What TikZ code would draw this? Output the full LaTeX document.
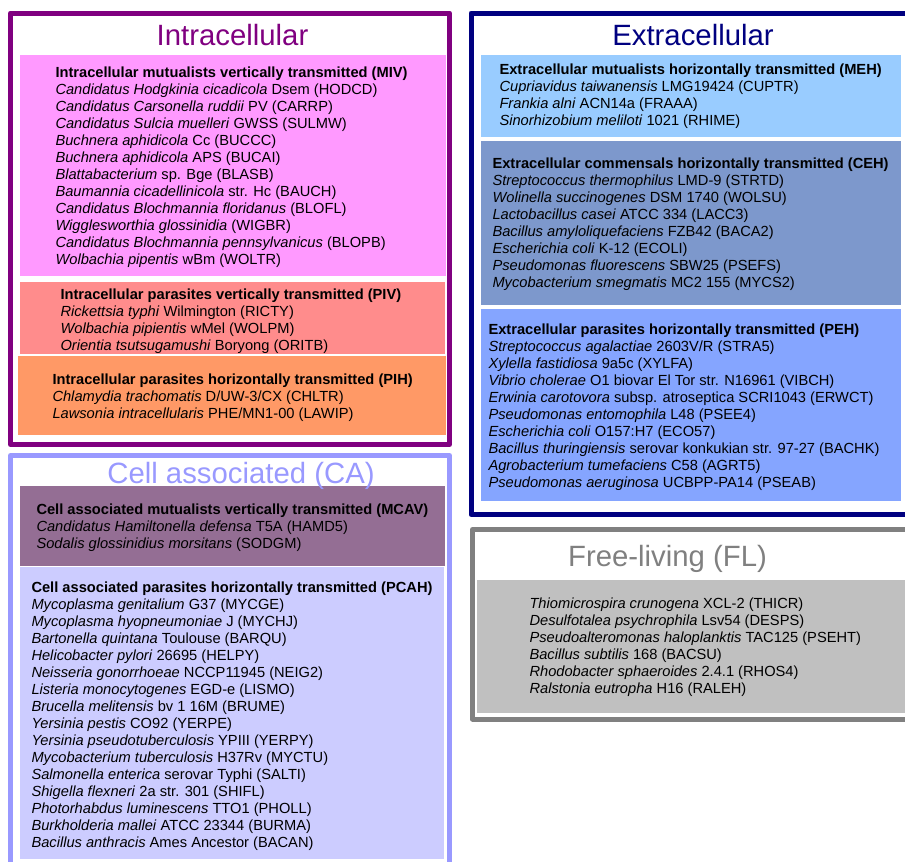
\documentclass[tikz,border=0pt]{standalone}
\usepackage{fontspec}
\setmainfont{Liberation Sans}
\definecolor{intrapurple}{RGB}{128,0,128}
\definecolor{mivpink}{RGB}{255,153,255}
\definecolor{pivsalmon}{RGB}{255,140,140}
\definecolor{piporange}{RGB}{255,153,102}
\definecolor{caviolet}{RGB}{153,153,255}
\definecolor{mcavmauve}{RGB}{148,110,148}
\definecolor{pcahlilac}{RGB}{204,204,255}
\definecolor{extranavy}{RGB}{0,0,128}
\definecolor{mehsky}{RGB}{153,204,255}
\definecolor{cehsteel}{RGB}{125,152,204}
\definecolor{pehblue}{RGB}{133,165,255}
\definecolor{flgray}{RGB}{128,128,128}
\definecolor{flsilver}{RGB}{192,192,192}

\tikzset{every picture/.style={line width=0.75pt}}
\tikzset{
  groupframe/.style={line width=3.75, line join=round},
  grouptitle/.style={anchor=base, inner sep=0.75pt, font=\fontsize{22}{26}\selectfont},
  specieslist/.style={anchor=north west, inner sep=0.75pt, align=left, font=\fontsize{11}{12.75}\selectfont},
}

\begin{document}
\begin{tikzpicture}[x=0.75pt,y=0.75pt,yscale=-1,xscale=1]
%set diagram left start at 0, and has height of 861
\useasboundingbox (0,0) rectangle (905,861);
\clip (0,0) rectangle (905,861);

%Shape: Rectangle (intracellular frame)
\draw [groupframe, color=intrapurple] (10.5,13) -- (449.5,13) -- (449.5,444.5) -- (10.5,444.5) -- cycle ;
%Shape: Rectangle (MIV)
\fill [mivpink] (20,55) -- (446,55) -- (446,276) -- (20,276) -- cycle ;
%Shape: Rectangle (PIV)
\fill [pivsalmon] (20,282) -- (445,282) -- (445,354) -- (20,354) -- cycle ;
%Shape: Rectangle (PIH)
\fill [piporange] (18,356) -- (446,356) -- (446,435) -- (18,435) -- cycle ;

%Shape: Rectangle (cell associated frame, open at the bottom)
\draw [groupframe, color=caviolet] (10.5,880) -- (10.5,455.5) -- (449.5,455.5) -- (449.5,880) ;
%Shape: Rectangle (MCAV)
\fill [mcavmauve] (20,486) -- (445,486) -- (445,566) -- (20,566) -- cycle ;
%Shape: Rectangle (PCAH)
\fill [pcahlilac] (20,567) -- (444,567) -- (444,859) -- (20,859) -- cycle ;

%Shape: Rectangle (extracellular frame, open at the right)
\draw [groupframe, color=extranavy] (920,13) -- (471,13) -- (471,514.5) -- (920,514.5) ;
%Shape: Rectangle (MEH)
\fill [mehsky] (481,55) -- (901,55) -- (901,137) -- (481,137) -- cycle ;
%Shape: Rectangle (CEH)
\fill [cehsteel] (481,141) -- (901,141) -- (901,305) -- (481,305) -- cycle ;
%Shape: Rectangle (PEH)
\fill [pehblue] (481,309) -- (901,309) -- (901,501) -- (481,501) -- cycle ;

%Shape: Rectangle (free-living frame, open at the right)
\draw [groupframe, color=flgray] (920,529.5) -- (472.5,529.5) -- (472.5,719) -- (920,719) ;
%Shape: Rectangle (FL)
\fill [flsilver] (477,580) -- (905,580) -- (905,713) -- (477,713) -- cycle ;

% Text Node
\node [grouptitle, color=intrapurple] (intratitle) at (232.5,45.7) {Intracellular};
% Text Node
\node [grouptitle, color=extranavy] (extratitle) at (693,45) {Extracellular};
% Text Node
\node [grouptitle, color=caviolet] (catitle) at (241,483) {Cell associated (CA)};
% Text Node
\node [grouptitle, color=flgray] (fltitle) at (667.5,566) {Free-living (FL)};

% Text Node
\node [specieslist] (miv) at (54,65) {\textbf{Intracellular mutualists vertically transmitted (MIV)}\\
\textit{Candidatus Hodgkinia cicadicola} Dsem (HODCD)\\
\textit{Candidatus Carsonella ruddii} PV (CARRP)\\
\textit{Candidatus Sulcia muelleri} GWSS (SULMW)\\
\textit{Buchnera aphidicola} Cc (BUCCC)\\
\textit{Buchnera aphidicola} APS (BUCAI)\\
\textit{Blattabacterium} sp. Bge (BLASB)\\
\textit{Baumannia cicadellinicola} str. Hc (BAUCH)\\
\textit{Candidatus Blochmannia floridanus} (BLOFL)\\
\textit{Wigglesworthia glossinidia} (WIGBR)\\
\textit{Candidatus Blochmannia pennsylvanicus} (BLOPB)\\
\textit{Wolbachia pipentis} wBm (WOLTR)};
% Text Node
\node [specieslist] (piv) at (59,287) {\textbf{Intracellular parasites vertically transmitted (PIV)}\\
\textit{Rickettsia typhi} Wilmington (RICTY)\\
\textit{Wolbachia pipientis} wMel (WOLPM)\\
\textit{Orientia tsutsugamushi} Boryong (ORITB)};
% Text Node
\node [specieslist] (pih) at (51,372) {\textbf{Intracellular parasites horizontally transmitted (PIH)}\\
\textit{Chlamydia trachomatis} D/UW-3/CX (CHLTR)\\
\textit{Lawsonia intracellularis} PHE/MN1-00 (LAWIP)};

% Text Node
\node [specieslist] (mcav) at (35,502.6) {\textbf{Cell associated mutualists vertically transmitted (MCAV)}\\
\textit{Candidatus Hamiltonella defensa} T5A (HAMD5)\\
\textit{Sodalis glossinidius morsitans} (SODGM)};
% Text Node
\node [specieslist] (pcah) at (30,580.6) {\textbf{Cell associated parasites horizontally transmitted (PCAH)}\\
\textit{Mycoplasma genitalium} G37 (MYCGE)\\
\textit{Mycoplasma hyopneumoniae} J (MYCHJ)\\
\textit{Bartonella quintana} Toulouse (BARQU)\\
\textit{Helicobacter pylori} 26695 (HELPY)\\
\textit{Neisseria gonorrhoeae} NCCP11945 (NEIG2)\\
\textit{Listeria monocytogenes} EGD-e (LISMO)\\
\textit{Brucella melitensis} bv 1 16M (BRUME)\\
\textit{Yersinia pestis} CO92 (YERPE)\\
\textit{Yersinia pseudotuberculosis} YPIII (YERPY)\\
\textit{Mycobacterium tuberculosis} H37Rv (MYCTU)\\
\textit{Salmonella enterica} serovar Typhi (SALTI)\\
\textit{Shigella flexneri} 2a str. 301 (SHIFL)\\
\textit{Photorhabdus luminescens} TTO1 (PHOLL)\\
\textit{Burkholderia mallei} ATCC 23344 (BURMA)\\
\textit{Bacillus anthracis} Ames Ancestor (BACAN)};

% Text Node
\node [specieslist] (meh) at (498,62.6) {\textbf{Extracellular mutualists horizontally transmitted (MEH)}\\
\textit{Cupriavidus taiwanensis} LMG19424 (CUPTR)\\
\textit{Frankia alni} ACN14a (FRAAA)\\
\textit{Sinorhizobium meliloti} 1021 (RHIME)};
% Text Node
\node [specieslist] (ceh) at (491,156.6) {\textbf{Extracellular commensals horizontally transmitted (CEH)}\\
\textit{Streptococcus thermophilus} LMD-9 (STRTD)\\
\textit{Wolinella succinogenes} DSM 1740 (WOLSU)\\
\textit{Lactobacillus casei} ATCC 334 (LACC3)\\
\textit{Bacillus amyloliquefaciens} FZB42 (BACA2)\\
\textit{Escherichia coli} K-12 (ECOLI)\\
\textit{Pseudomonas fluorescens} SBW25 (PSEFS)\\
\textit{Mycobacterium smegmatis} MC2 155 (MYCS2)};
% Text Node
\node [specieslist] (peh) at (487,322.6) {\textbf{Extracellular parasites horizontally transmitted (PEH)}\\
\textit{Streptococcus agalactiae} 2603V/R (STRA5)\\
\textit{Xylella fastidiosa} 9a5c (XYLFA)\\
\textit{Vibrio cholerae} O1 biovar El Tor str. N16961 (VIBCH)\\
\textit{Erwinia carotovora} subsp. atroseptica SCRI1043 (ERWCT)\\
\textit{Pseudomonas entomophila} L48 (PSEE4)\\
\textit{Escherichia coli} O157:H7 (ECO57)\\
\textit{Bacillus thuringiensis} serovar konkukian str. 97-27 (BACHK)\\
\textit{Agrobacterium tumefaciens} C58 (AGRT5)\\
\textit{Pseudomonas aeruginosa} UCBPP-PA14 (PSEAB)};

% Text Node
\node [specieslist] (fl) at (528,596.6) {\textit{Thiomicrospira crunogena} XCL-2 (THICR)\\
\textit{Desulfotalea psychrophila} Lsv54 (DESPS)\\
\textit{Pseudoalteromonas haloplanktis} TAC125 (PSEHT)\\
\textit{Bacillus subtilis} 168 (BACSU)\\
\textit{Rhodobacter sphaeroides} 2.4.1 (RHOS4)\\
\textit{Ralstonia eutropha} H16 (RALEH)};

\end{tikzpicture}
\end{document}
